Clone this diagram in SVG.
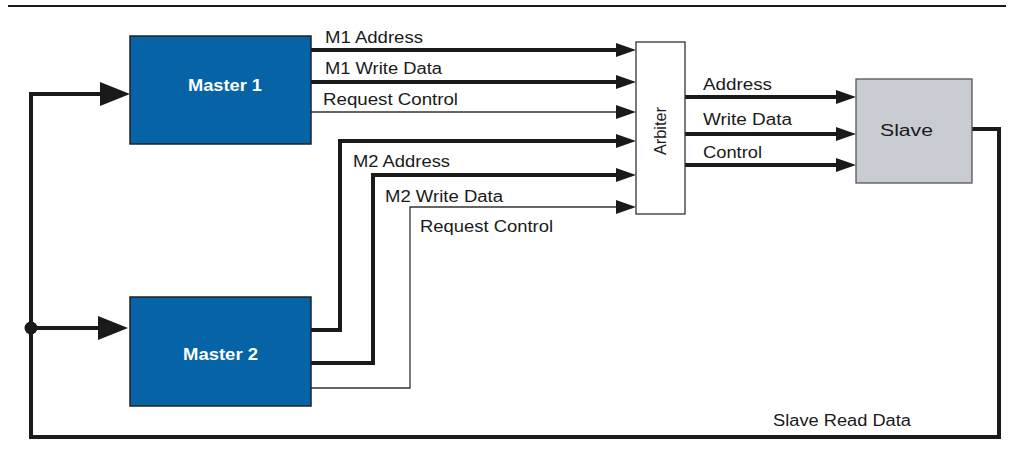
<svg xmlns="http://www.w3.org/2000/svg" width="1013" height="454" viewBox="0 0 1013 454">
  <style>
    .lbl { font-family: "Liberation Sans", Arial, sans-serif; font-size: 16px; fill: #1a1a1a; }
    .mst { font-family: "Liberation Sans", Arial, sans-serif; font-size: 16px; font-weight: bold; fill: #ffffff; }
    .bus { fill: none; stroke: #1a1a1a; stroke-width: 4; }
    .sig { fill: none; stroke: #333333; stroke-width: 1.3; }
    .master { fill: #0563a6; stroke: #222222; stroke-width: 1.5; }
  </style>
  <defs>
    <marker id="arr" markerUnits="userSpaceOnUse" markerWidth="20" markerHeight="14" refX="10" refY="7" orient="auto">
      <path d="M0,0 L20,7 L0,14 z" fill="#1a1a1a"/>
    </marker>
    <marker id="arrBig" markerUnits="userSpaceOnUse" markerWidth="30" markerHeight="24" refX="15" refY="12" orient="auto">
      <path d="M0,0 L30,12 L0,24 z" fill="#1a1a1a"/>
    </marker>
  </defs>

  <rect width="1013" height="454" fill="#ffffff"/>

  <!-- page rule -->
  <line x1="8" y1="6" x2="1006" y2="6" stroke="#1a1a1a" stroke-width="2"/>

  <g id="connectors">
    <!-- Master 1 to arbiter -->
    <path class="bus" d="M311,50 H626" marker-end="url(#arr)"/>
    <path class="bus" d="M311,82 H626" marker-end="url(#arr)"/>
    <path class="sig" d="M311,112 H626" marker-end="url(#arr)"/>
    <!-- Master 2 to arbiter -->
    <path class="bus" d="M311,330 H340 V141 H626" marker-end="url(#arr)"/>
    <path class="bus" d="M311,363 H373 V175 H626" marker-end="url(#arr)"/>
    <path class="sig" d="M311,388 H410 V207 H626" marker-end="url(#arr)"/>
    <!-- arbiter to slave -->
    <path class="bus" d="M685,97 H846" marker-end="url(#arr)"/>
    <path class="bus" d="M685,134 H846" marker-end="url(#arr)"/>
    <path class="bus" d="M685,165 H846" marker-end="url(#arr)"/>
    <!-- slave read data back to both masters -->
    <path class="bus" d="M972,129 H999 V437 H31 V94 H115" marker-end="url(#arrBig)"/>
    <path class="bus" d="M31,328 H113" marker-end="url(#arrBig)"/>
    <circle cx="31" cy="328" r="6.5" fill="#1a1a1a"/>

    <text class="lbl" x="325" y="43" textLength="98" lengthAdjust="spacingAndGlyphs">M1 Address</text>
    <text class="lbl" x="325" y="74" textLength="117" lengthAdjust="spacingAndGlyphs">M1 Write Data</text>
    <text class="lbl" x="323" y="105" textLength="135" lengthAdjust="spacingAndGlyphs">Request Control</text>
    <text class="lbl" x="353" y="167" textLength="97" lengthAdjust="spacingAndGlyphs">M2 Address</text>
    <text class="lbl" x="385" y="202" textLength="118" lengthAdjust="spacingAndGlyphs">M2 Write Data</text>
    <text class="lbl" x="420" y="232" textLength="133" lengthAdjust="spacingAndGlyphs">Request Control</text>
    <text class="lbl" x="703" y="90" textLength="69" lengthAdjust="spacingAndGlyphs">Address</text>
    <text class="lbl" x="703" y="125" textLength="89" lengthAdjust="spacingAndGlyphs">Write Data</text>
    <text class="lbl" x="703" y="158" textLength="59" lengthAdjust="spacingAndGlyphs">Control</text>
    <text class="lbl" x="773" y="426" textLength="138" lengthAdjust="spacingAndGlyphs">Slave Read Data</text>
  </g>

  <g id="master1">
    <rect class="master" x="130" y="36" width="181" height="108"/>
    <text class="mst" x="188" y="91" textLength="74" lengthAdjust="spacingAndGlyphs">Master 1</text>
  </g>

  <g id="master2">
    <rect class="master" x="130" y="297" width="181" height="109"/>
    <text class="mst" x="183" y="360" textLength="75" lengthAdjust="spacingAndGlyphs">Master 2</text>
  </g>

  <g id="arbiter">
    <rect x="636" y="42" width="49" height="172" fill="#ffffff" stroke="#333333" stroke-width="1.3"/>
    <text class="lbl" transform="translate(666,155) rotate(-90)" font-size="18" textLength="48" lengthAdjust="spacingAndGlyphs">Arbiter</text>
  </g>

  <g id="slave">
    <rect x="856" y="79" width="116" height="104" fill="#c9cbd3" stroke="#555555" stroke-width="1.3"/>
    <text class="lbl" x="880" y="136" font-size="17" textLength="53" lengthAdjust="spacingAndGlyphs">Slave</text>
  </g>
</svg>
